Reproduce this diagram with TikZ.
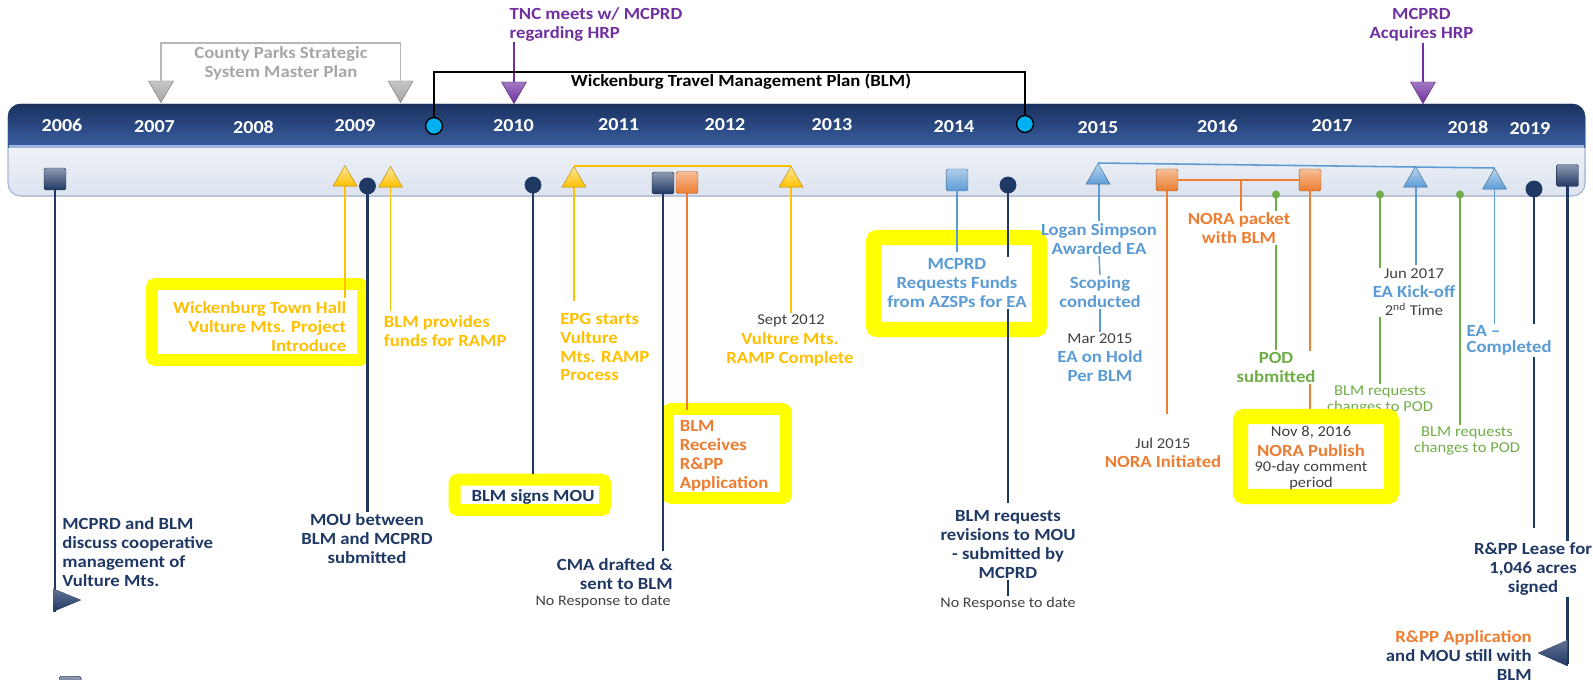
\documentclass[tikz,border=0pt]{standalone}
\usepackage{fontspec}
\setmainfont{Carlito}[FakeStretch=1.1]
\usetikzlibrary{shapes.geometric}
\definecolor{navy}{HTML}{1F3864}
\definecolor{gold}{HTML}{FFC000}
\definecolor{orng}{HTML}{ED7D31}
\definecolor{lblue}{HTML}{5B9BD5}
\definecolor{grn}{HTML}{70AD47}
\definecolor{purp}{HTML}{7030A0}
\definecolor{gry}{HTML}{A6A6A6}
\definecolor{dgray}{HTML}{404040}
\definecolor{hl}{HTML}{FFFF00}
\definecolor{cyanc}{HTML}{00B0F0}
\definecolor{barT}{HTML}{1B3160}
\definecolor{barB}{HTML}{4470B8}
\definecolor{barL}{HTML}{DCE3EF}
\definecolor{barE}{HTML}{A8B6CF}
\definecolor{barH}{HTML}{9DB5DE}
\begin{document}
\begin{tikzpicture}[x=0.025cm,y=-0.025cm,
  every node/.style={inner sep=1pt},
  lb/.style={font=\bfseries\fontsize{12.1}{13.5}\selectfont, align=center},
  sm/.style={font=\fontsize{10.4}{11.4}\selectfont, text=dgray, align=center},
  dt/.style={font=\fontsize{10.7}{13}\selectfont, text=dgray, align=center},
  gt/.style={font=\fontsize{10.7}{11}\selectfont, text=grn, align=center},
  yr/.style={font=\bfseries\fontsize{13}{14}\selectfont, text=white},
  nst/.style={draw=navy, line width=1.5pt},
  cst/.style={draw=#1, line width=1.1pt},
  triu/.style={regular polygon, regular polygon sides=3, minimum size=19.7pt, inner sep=0pt, draw=#1!70!black, line width=0.3pt, top color=#1!40!white, bottom color=#1, anchor=north},
  trid/.style={regular polygon, regular polygon sides=3, shape border rotate=180, minimum size=20.5pt, inner sep=0pt, draw=#1!70!black, line width=0.3pt, top color=#1!65!white, bottom color=#1, anchor=south},
  sq/.style={rectangle, minimum size=15.6pt, inner sep=0pt, rounded corners=1.2pt, draw=#1!70!black, line width=0.3pt, top color=#1!50!white, bottom color=#1},
  ndot/.style={circle, minimum size=12pt, inner sep=0pt, fill=navy},
  cdot/.style={circle, minimum size=12pt, inner sep=0pt, fill=cyanc, draw=black, line width=1pt},
  gdot/.style={circle, minimum size=5.7pt, inner sep=0pt, fill=grn},
  hlbox/.style={draw=hl, line width=#1, fill=white, rounded corners=2.5pt}]
\useasboundingbox (0,0) rectangle (1593,679);

% ---------- timeline bar ----------
\fill[top color=white, bottom color=barL, rounded corners=9] (8,104) rectangle (1585,196);
\draw[barE, line width=0.8pt, rounded corners=9] (8,104) rectangle (1585,196);
\begin{scope}
  \clip (0,0) rectangle (1593,147);
  \fill[top color=barT, bottom color=barB, rounded corners=9] (8,104) rectangle (1585,162);
\end{scope}
\fill[barH] (9,145) rectangle (1584,148);

\node[yr] (y06) at (62,125.8) {2006};
\node[yr] (y07) at (154.5,127) {2007};
\node[yr] (y08) at (253.5,127) {2008};
\node[yr] (y09) at (355,125.7) {2009};
\node[yr] (y10) at (513.5,125.7) {2010};
\node[yr] (y11) at (618.6,125) {2011};
\node[yr] (y12) at (725,125) {2012};
\node[yr] (y13) at (832,125) {2013};
\node[yr] (y14) at (954,127) {2014};
\node[yr] (y15) at (1098,127.5) {2015};
\node[yr] (y16) at (1217.5,126) {2016};
\node[yr] (y17) at (1332,126) {2017};
\node[yr] (y18) at (1468,127.5) {2018};
\node[yr] (y19) at (1530,128.5) {2019};

% ---------- above the bar ----------
\node[trid=gry] (g1) at (161,103) {};
\node[trid=gry] (g2) at (400.6,103) {};
\coordinate (gtop) at (281,43);
\draw[gry!80, line width=1.1pt] (g1.north) |- (gtop) -| (g2.north);
\node[lb, text=gry] (cps) at (281,63.5) {County Parks Strategic\\System Master Plan};

\coordinate (p1s) at (514,42);
\coordinate (p2s) at (1423,43);
\node[trid=purp] (p1) at (514,104) {};
\node[trid=purp] (p2) at (1423,104) {};
\draw[purp, line width=1.1pt] (p1s) -- (p1.north);
\draw[purp, line width=1.1pt] (p2s) -- (p2.north);
\node[lb, text=purp, align=left, anchor=west] (tnc) at (508,24.5) {TNC meets w/ MCPRD\\regarding HRP};
\node[lb, text=purp] (acq) at (1421.5,24.5) {MCPRD\\Acquires HRP};

\coordinate (wt) at (741,72);
\node[cdot] (c1) at (434,126) {};
\node[cdot] (c2) at (1025,124) {};
\draw[black, line width=1.1pt] (c1.north) |- (wt) -| (c2.north);
\node[lb, text=black] (wtmp) at (741,82) {Wickenburg Travel Management Plan (BLM)};

% ---------- highlight boxes (first group) ----------
\draw[hlbox=8.5pt] (152,284) rectangle (363,360);
\draw[hlbox=8.5pt] (454.6,479.7) rectangle (605,510);
\draw[hlbox=8.5pt] (668,409) rectangle (786,498);
\draw[hlbox=10.7pt] (873.5,237.5) rectangle (1039.5,329.5);

% ---------- stem end points ----------
\coordinate (m06) at (55,179);
\coordinate (e06) at (55,611.6);
\coordinate (e09a) at (345,298);
\coordinate (e09c) at (390.5,311);
\coordinate (e10) at (533,474);
\coordinate (e11a) at (574,301);
\coordinate (e11) at (663,551);
\coordinate (e11c) at (687,410);
\coordinate (e14a) at (957,252);
\coordinate (e14) at (1008,503);
\coordinate (e15) at (1167,414);
\coordinate (e16) at (1310,416);
\coordinate (eg1) at (1276,350);
\coordinate (eg2) at (1380,384);
\coordinate (eg3) at (1460,424.5);
\coordinate (e19) at (1567.5,664);
\coordinate (drop) at (1241,180);

% labels needed for stem ends
\node[lb, text=navy] (l09b) at (367,539) {MOU between\\BLM and MCPRD\\submitted};
\node[dt] (s12) at (791,321) {Sept 2012};
\node[lb, text=lblue] (ls) at (1099,238.6) {Logan Simpson\\Awarded EA};

% ---------- stems ----------
\draw[nst] (m06) -- (e06);
\draw[cst=gold] (345,180) -- (e09a);
\draw[nst] (367.5,186) -- (l09b.north -| 367.5,186);
\draw[cst=gold] (390.5,180) -- (e09c);
\draw[nst] (533,185) -- (e10);
\draw[cst=gold] (574,180) -- (e11a);
\draw[nst] (663,183) -- (e11);
\draw[cst=orng] (687,183) -- (e11c);
\draw[cst=gold] (791,180) -- (s12.north -| 791,180);
\draw[cst=lblue] (957,180) -- (e14a);
\draw[nst] (1008,185) -- (e14);
\draw[cst=lblue] (1099,175) -- (ls.north -| 1099,175);
\draw[cst=orng] (1167,180) -- (e15);
\draw[cst=orng] (drop) -- (1241,212);
\draw[cst=grn] (1276,194.5) -- (eg1);
\draw[cst=orng] (1310,180) -- (e16);
\draw[cst=grn] (1380,194.5) -- (eg2);
\draw[cst=lblue] (1416,180) -- (1416,265);
\draw[cst=grn] (1460,194.5) -- (eg3);
\draw[cst=lblue] (1494.5,180) -- (1494.5,326);
\draw[nst] (1534,189) -- (1534,528);
\draw[nst] (1567.5,176) -- (e19);

% ---------- markers ----------
\node[sq=navy] (sq06) at (m06) {};
\node[triu=gold] (yT1) at (345,165) {};
\node[ndot] (nc09) at (367.5,186) {};
\node[triu=gold] (yT2) at (390.5,166) {};
\node[ndot] (nc10) at (533,185) {};
\node[triu=gold] (yT3) at (574,166) {};
\node[triu=gold] (yT4) at (791,166) {};
\draw[gold, line width=1.1pt] (yT3.north) -- (yT4.north);
\node[sq=navy] (sqN11) at (663,183) {};
\node[sq=orng] (sqO11) at (687,182.5) {};
\node[sq=lblue] (sqB14) at (957,180) {};
\node[ndot] (nc14) at (1008,185) {};
\node[triu=lblue] (bT1) at (1098,163) {};
\node[triu=lblue] (bT2) at (1415.5,166) {};
\node[triu=lblue] (bT3) at (1494.5,168) {};
\draw[lblue, line width=1.1pt] (bT1.north) -- (bT3.north);
\node[sq=orng] (sqO15) at (1167,180) {};
\node[sq=orng] (sqO16) at (1310,180) {};
\draw[orng, line width=1.1pt] (sqO15.east) -- (sqO16.west);
\node[gdot] (gd1) at (1276,194.5) {};
\node[gdot] (gd2) at (1380,194.5) {};
\node[gdot] (gd3) at (1460,194.5) {};
\node[ndot] (nc18) at (1534,189) {};
\node[sq=navy] (sq19) at (1567.5,175.5) {};

% end arrows
\fill[top color=navy!70!white, bottom color=navy] (53,588.6) -- (81,600) -- (53,611.6) -- cycle;
\fill[top color=navy!70!white, bottom color=navy] (1567.5,640) -- (1538,653) -- (1567.5,666) -- cycle;

% ---------- labels ----------
\node[lb, text=navy, align=left, anchor=west] (l06) at (60.6,552.5) {MCPRD and BLM\\discuss cooperative\\management of\\Vulture Mts.};
\node[lb, text=gold, align=right, anchor=east] (l09a) at (347.9,327) {Wickenburg Town Hall\\Vulture Mts. Project\\Introduce};
\node[lb, text=gold, align=left, anchor=west] (l09c) at (382.3,331.4) {BLM provides\\funds for RAMP};
\node[lb, text=navy] (l10) at (533,497) {BLM signs MOU};
\node[lb, text=gold, align=left, anchor=west] (l11a) at (558.6,347) {EPG starts\\Vulture\\Mts. RAMP\\Process};
\node[lb, text=navy, align=right, anchor=east] (l11b) at (674.4,574) {CMA drafted \&\\sent to BLM};
\node[sm, anchor=east] (nr1) at (672.4,602) {No Response to date};
\node[lb, text=orng, align=left, anchor=west] (l11c) at (678.1,456) {BLM\\Receives\\R\&PP\\Application};
\node[lb, text=gold] (l12) at (790,349.5) {Vulture Mts.\\RAMP Complete};
\node[lb, text=lblue, fill=white] (l14a) at (957,283) {MCPRD\\Requests Funds\\from AZSPs for EA};
\node[lb, text=navy] (l14b) at (1008,544.5) {BLM requests\\revisions to MOU\\- submitted by\\MCPRD};
\node[sm] (nr2) at (1008,604) {No Response to date};
\draw[navy, line width=1pt] (l14b.south) -- (nr2.north);
\node[lb, text=lblue] (sc) at (1100,292) {Scoping\\conducted};
\node[dt] (mar) at (1100,339) {Mar 2015};
\node[lb, text=lblue] (hold) at (1100,366.5) {EA on Hold\\Per BLM};
\draw[lblue, line width=1pt] (ls.south) -- (sc.north);
\draw[lblue, line width=1pt] (sc.south) -- (mar.north);
\node[dt] (jul) at (1163,443) {Jul 2015};
\node[lb, text=orng] (ni) at (1163,461.5) {NORA Initiated};
\node[lb, text=orng, fill=white] (npk) at (1239,228) {NORA packet\\with BLM};
\node[lb, text=grn, fill=white] (pod) at (1276,367.5) {POD\\submitted};
\node[dt, fill=white, font=\fontsize{10.7}{13.1}\selectfont] (jun) at (1414,292.5) {Jun 2017\\{\bfseries\fontsize{12.1}{13.1}\selectfont\color{lblue}EA Kick-off}\\2\textsuperscript{nd} Time};
\node[gt] (rc1) at (1380,400) {BLM requests\\changes to POD};
\node[gt] (rc2) at (1467,441) {BLM requests\\changes to POD};
\node[lb, text=lblue, align=left, anchor=west, fill=white] (eac) at (1465,340.3) {EA --\\[-2pt]Completed};
\node[lb, text=navy, fill=white] (lease) at (1533,569) {R\&PP Lease for\\1,046 acres\\signed};
\node[lb, text=navy, align=right, anchor=east, font=\bfseries\fontsize{12.1}{13.2}\selectfont] (still) at (1533.4,655.5) {\textcolor{orng}{R\&PP Application}\\and MOU still with\\BLM};

% ---------- NORA publish box ----------
\draw[hlbox=10.7pt] (1240.5,416.5) rectangle (1391.5,496.5);
\node[dt] (nov) at (1311,432) {Nov 8, 2016};
\node[lb, text=orng, inner sep=0pt] (nrp) at (1311,450.5) {NORA Publish};
\node[sm, font=\fontsize{10.6}{11.4}\selectfont, inner sep=0pt] (per) at (1311,476) {90-day comment\\period};

% legend marker (cut by the page edge)
\node[sq=navy, anchor=north west] (leg) at (59,676) {};
\end{tikzpicture}
\end{document}
